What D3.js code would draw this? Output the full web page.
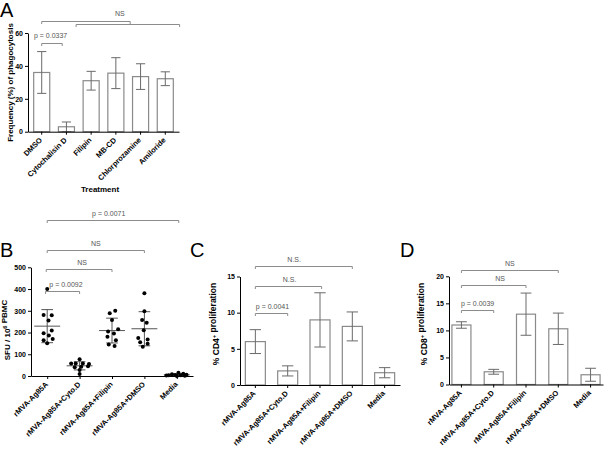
<!DOCTYPE html>
<html><head><meta charset="utf-8">
<script src="https://cdn.jsdelivr.net/npm/d3@7"></script>
<style>body{margin:0;background:#fff}svg{display:block}</style>
</head><body><svg id="chart" width="608" height="452"></svg>
<script>
// ---------- DATA ----------
// Panel A
const aCategories = ["DMSO", "Cytochalisin D", "Filipin", "MB-CD", "Chlorprozamine", "Amiloride"];
const aMeans = [36.0, 3.0, 31.0, 35.6, 33.5, 32.2];
const aErrors = [12.7, 2.9, 5.7, 9.4, 7.8, 4.2];
const aTicks = [0, 20, 40, 60];
const aBrackets = [
  {from: 0, to: 0.83, level: 54.0, label: "p = 0.0337", at: 0.36},
  {from: 0, to: 3.58, level: 67.3, label: "NS", at: 3.16},
  {from: 1.39, to: 5.58, level: 65.7, label: "", at: 3}
];
// Panel B
const bCategories = ["rMVA-Ag85A", "rMVA-Ag85A+Cyto.D", "rMVA-Ag85A+Filipin", "rMVA-Ag85A+DMSO", "Media"];
const bAg85A   = [400, 281, 279, 255, 209, 197, 186, 170, 165, 151];
const bCytoD   = [77, 58, 58, 57, 55, 40, 42, 45, 28, 9];
const bFilipin = [300, 289, 258, 215, 205, 195, 180, 165, 145, 138];
const bDMSO    = [381, 298, 258, 245, 210, 175, 168, 155, 148, 135];
const bMedia   = [15, 10, 8, 6, 5, 4, 3, 2, 1, 0];
const bJitterAg85A   = [0, -0.11, 0.14, 0.04, 0.14, -0.11, 0.05, 0.17, -0.11, 0];
const bJitterCytoD   = [0, -0.26, -0.12, 0.1, 0.29, -0.15, 0.05, 0.26, 0, 0];
const bJitterFilipin = [0.1, -0.07, 0, 0.19, -0.12, 0.06, -0.14, 0.12, -0.1, 0.08];
const bJitterDMSO    = [0, 0, -0.07, 0.07, -0.02, -0.19, 0.1, -0.13, 0.1, -0.05];
const bJitterMedia   = [0.05, 0.2, -0.15, 0.3, -0.05, -0.25, 0.12, -0.32, 0.25, 0];
const bTicks = [0, 100, 200, 300, 400, 500];
const bBrackets = [
  {from: -0.05, to: 1.0, level: 392, label: "p = 0.0092", at: 0.58},
  {from: -0.03, to: 2.0, level: 493, label: "NS", at: 1.08},
  {from: 0, to: 3.0, level: 581, label: "NS", at: 1.5},
  {from: 0, to: 4.06, level: 719, label: "p = 0.0071", at: 1.9}
];
// Panel C
const cCategories = bCategories;
const cMeans = [6.0, 1.95, 9.0, 8.1, 1.7];
const cErrors = [1.65, 0.7, 3.75, 2.0, 0.7];
const cTicks = [0, 5, 10, 15];
const cBrackets = [
  {from: 0, to: 1, level: 9.93, label: "p = 0.0041", at: 0.53},
  {from: 0, to: 2.05, level: 13.7, label: "N.S.", at: 1.06},
  {from: 0, to: 3, level: 16.4, label: "N.S.", at: 1.2}
];
// Panel D
const dCategories = bCategories;
const dMeans = [11.0, 2.35, 13.0, 10.3, 1.8];
const dErrors = [0.6, 0.45, 3.9, 2.9, 1.2];
const dTicks = [0, 5, 10, 15, 20];
const dBrackets = [
  {from: 0, to: 1, level: 13.7, label: "p = 0.0039", at: 0.5},
  {from: 0, to: 2, level: 18.3, label: "NS", at: 1.2},
  {from: 0, to: 3, level: 21.2, label: "NS", at: 1.5}
];

// ---------- DRAWING ----------
const FONT = '"Liberation Sans", Arial, Helvetica, sans-serif';
const svg = d3.select("#chart");
const BAR_STROKE = "#8a8a8a", ERR_STROKE = "#6a6a6a", BR_STROKE = "#8c8c8c", BR_TEXT = "#555";

function styleAxis(ax) {
  ax.select(".domain").attr("stroke", "#000").attr("stroke-width", 1);
  ax.selectAll(".tick line").attr("stroke", "#000");
  ax.selectAll(".tick text").attr("font-family", FONT).attr("font-weight", "bold")
    .attr("font-size", 7).attr("fill", "#000");
}
function drawYAxis(g, y, x0, ticks) {
  const ax = g.append("g").attr("transform", `translate(${x0},0)`)
    .call(d3.axisLeft(y).tickValues(ticks).tickSize(3).tickSizeOuter(0).tickPadding(2));
  styleAxis(ax);
}
function drawXAxis(g, x, y0) {
  const ax = g.append("g").attr("transform", `translate(0,${y0})`)
    .call(d3.axisBottom(x).tickSize(3).tickSizeOuter(0));
  styleAxis(ax);
  ax.selectAll(".tick text").attr("x", 0).attr("y", 0).attr("dy", "0.35em")
    .attr("transform", "translate(-1,7) rotate(-45)").style("text-anchor", "end")
    .attr("font-size", 7.5);
}
function drawYTitle(g, cx, cy, parts, size) {
  const t = g.append("text").attr("transform", `translate(${cx},${cy}) rotate(-90)`)
    .attr("text-anchor", "middle").attr("dy", "0.35em")
    .attr("font-family", FONT).attr("font-weight", "bold").attr("font-size", size);
  parts.forEach(p => {
    if (p.sup) {
      t.append("tspan").attr("dy", -size * 0.4).attr("font-size", size * 0.7).text(p.sup);
      t.append("tspan").attr("dy", size * 0.4).text("");
    } else t.append("tspan").text(p.t);
  });
}
function drawBrackets(g, xAt, y, list, gap) {
  list.forEach(b => {
    const x1 = xAt(b.from), x2 = xAt(b.to), yy = Math.round(y(b.level)) + 0.5;
    g.append("path").attr("d", `M${x1},${yy + 2.5}V${yy}H${x2}V${yy + 2.5}`)
      .attr("fill", "none").attr("stroke", BR_STROKE).attr("stroke-width", 1);
    if (b.label) g.append("text").attr("x", xAt(b.at)).attr("y", yy - gap)
      .attr("text-anchor", "middle").attr("font-family", FONT).attr("font-size", 7)
      .attr("fill", BR_TEXT).text(b.label);
  });
}
function letter(g, x, y, s) {
  g.append("text").attr("x", x).attr("y", y).attr("font-family", FONT)
    .attr("font-size", 20).attr("fill", "#000").text(s);
}
function barPanel(cfg) {
  const g = svg.append("g");
  const x = d3.scaleBand().domain(cfg.cats).range(cfg.xr).paddingInner(cfg.pi).paddingOuter(cfg.po);
  const y = d3.scaleLinear().domain(cfg.yd).range(cfg.yr);
  const bw = x.bandwidth();
  const xAt = i => x(cfg.cats[0]) + bw / 2 + i * x.step();
  const rows = cfg.cats.map((c, i) => ({c, m: cfg.means[i], e: cfg.errs[i]}));
  g.selectAll("rect.bar").data(rows).join("rect").attr("class", "bar")
    .attr("x", d => x(d.c) + 0.5).attr("width", bw - 1)
    .attr("y", d => y(d.m)).attr("height", d => y(0) - y(d.m))
    .attr("fill", "#fff").attr("stroke", BAR_STROKE).attr("stroke-width", 1.2);
  const cap = bw * 0.27;
  rows.forEach(d => {
    const cx = x(d.c) + bw / 2, lo = Math.max(0, d.m - d.e);
    g.append("path").attr("d",
      `M${cx},${y(lo)}V${y(d.m + d.e)}M${cx - cap},${y(d.m + d.e)}H${cx + cap}M${cx - cap},${y(lo)}H${cx + cap}`)
      .attr("stroke", ERR_STROKE).attr("fill", "none").attr("stroke-width", 1);
  });
  drawXAxis(g, x, cfg.yr[0]);
  drawYAxis(g, y, cfg.xr[0], cfg.ticks);
  drawBrackets(g, xAt, y, cfg.brackets, cfg.gap);
  drawYTitle(g, cfg.tx, cfg.ty, cfg.title, cfg.tsize);
  return g;
}

// Panel A
const gA = barPanel({cats: aCategories, means: aMeans, errs: aErrors, xr: [28, 179], pi: 0.31, po: 0.21,
  yd: [0, 60], yr: [131.7, 33], ticks: aTicks, brackets: aBrackets, gap: 6,
  tx: 10, ty: 82.5, title: [{t: "Frequency (%) of phagocytosis"}], tsize: 8});
gA.append("text").attr("x", 100).attr("y", 192).attr("text-anchor", "middle")
  .attr("font-family", FONT).attr("font-weight", "bold").attr("font-size", 8).text("Treatment");
letter(svg, 0, 17, "A");

// Panel B (dot plot with mean ± SD)
{
  const g = svg.append("g");
  const x = d3.scalePoint().domain(bCategories).range([31, 193]).padding(0.5);
  const y = d3.scaleLinear().domain([0, 500]).range([376, 267.3]);
  const step = x.step();
  const groups = [
    {c: bCategories[0], v: bAg85A, j: bJitterAg85A},
    {c: bCategories[1], v: bCytoD, j: bJitterCytoD},
    {c: bCategories[2], v: bFilipin, j: bJitterFilipin},
    {c: bCategories[3], v: bDMSO, j: bJitterDMSO},
    {c: bCategories[4], v: bMedia, j: bJitterMedia}
  ];
  groups.forEach(gr => {
    const cx = x(gr.c), m = d3.mean(gr.v), sd = d3.deviation(gr.v);
    const ml = step * 0.4, cap = step * 0.18;
    g.append("path").attr("d",
      `M${cx - ml},${y(m)}H${cx + ml}M${cx},${y(Math.max(0, m - sd))}V${y(m + sd)}M${cx - cap},${y(m + sd)}H${cx + cap}M${cx - cap},${y(Math.max(0, m - sd))}H${cx + cap}`)
      .attr("stroke", "#555").attr("fill", "none").attr("stroke-width", 1);
    g.selectAll(null).data(gr.v.map((v, i) => ({v, j: gr.j[i]}))).join("circle")
      .attr("cx", d => cx + d.j * step).attr("cy", d => y(d.v)).attr("r", 2).attr("fill", "#000");
  });
  drawXAxis(g, x, 376);
  drawYAxis(g, y, 31, bTicks);
  drawBrackets(g, i => x(bCategories[0]) + i * step, y, bBrackets, 4.5);
  drawYTitle(g, 7.5, 330, [{t: "SFU / 10"}, {sup: "6"}, {t: " PBMC"}], 8);
  letter(svg, 0, 257, "B");
}

// Panel C
barPanel({cats: cCategories, means: cMeans, errs: cErrors, xr: [240, 400], pi: 0.35, po: 0.15,
  yd: [0, 15], yr: [385, 276.5], ticks: cTicks, brackets: cBrackets, gap: 4.5,
  tx: 216, ty: 324, title: [{t: "% CD4"}, {sup: "+"}, {t: " proliferation"}], tsize: 8.5});
letter(svg, 190, 257, "C");

// Panel D
barPanel({cats: dCategories, means: dMeans, errs: dErrors, xr: [449, 603], pi: 0.38, po: 0.075,
  yd: [0, 20], yr: [384.5, 276.3], ticks: dTicks, brackets: dBrackets, gap: 4.5,
  tx: 424, ty: 324, title: [{t: "% CD8"}, {sup: "+"}, {t: " proliferation"}], tsize: 8.5});
letter(svg, 400, 257, "D");
</script></body></html>
